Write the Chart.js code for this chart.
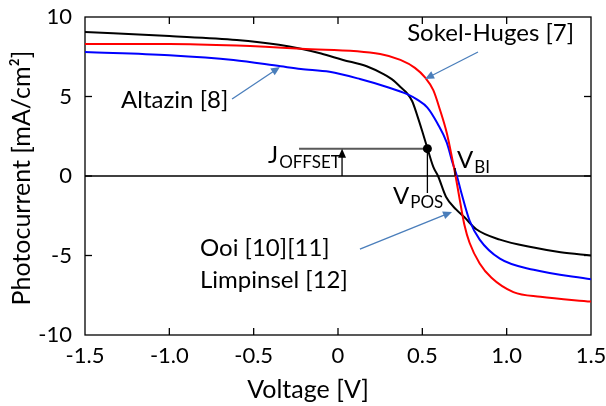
<!DOCTYPE html>
<html>
<head>
<meta charset="utf-8">
<script src="https://cdn.jsdelivr.net/npm/chart.js@4.4.0/dist/chart.umd.min.js"></script>
<style>
  html, body { margin: 0; padding: 0; background: #fff; }
  #wrap { width: 606px; height: 406px; }
</style>
</head>
<body>
<div id="wrap"><canvas id="jv" width="606" height="406"></canvas></div>
<script>
// Ooi [10][11] / Limpinsel [12] (black)
const ooiV = [-1.5, -1.0, -0.6, -0.35, -0.22, -0.1, 0.03, 0.17, 0.27, 0.33, 0.37, 0.41, 0.44, 0.47, 0.5, 0.53, 0.565, 0.593, 0.64, 0.7, 0.75, 0.82, 0.96, 1.16, 1.32, 1.5]
const ooiJ = [9.06, 8.8, 8.55, 8.25, 8.0, 7.7, 7.3, 6.9, 6.4, 6.0, 5.6, 5.2, 4.7, 3.8, 2.8, 1.75, 0.57, 0.0, -1.3, -2.1, -2.6, -3.35, -4.0, -4.5, -4.8, -5.0]
// Sokel-Huges [7] (red)
const sokelV = [-1.5, -1.0, -0.6, -0.22, 0.25, 0.37, 0.456, 0.516, 0.565, 0.605, 0.645, 0.675, 0.697, 0.722, 0.75, 0.78, 0.84, 0.91, 1.04, 1.2, 1.5]
const sokelJ = [8.3, 8.3, 8.2, 8.0, 7.67, 7.3, 6.8, 6.2, 5.4, 4.15, 2.7, 1.2, 0.0, -1.5, -3.1, -4.2, -5.5, -6.4, -7.3, -7.6, -7.9]
// Altazin [8] (blue)
const altazinV = [-1.5, -1.0, -0.62, -0.34, -0.22, -0.05, 0.13, 0.29, 0.41, 0.47, 0.53, 0.59, 0.645, 0.68, 0.705, 0.73, 0.78, 0.84, 0.96, 1.16, 1.5]
const altazinJ = [7.8, 7.6, 7.3, 6.9, 6.73, 6.55, 6.1, 5.6, 5.15, 4.8, 4.3, 3.3, 2.1, 0.8, 0.0, -1.0, -2.8, -4.0, -5.2, -5.9, -6.5]

const xTicks = [-1.5, -1.0, -0.5, 0, 0.5, 1.0, 1.5]
const xTickLabels = [`-1.5`, `-1.0`, `-0.5`, `0`, `0.5`, `1.0`, `1.5`]
const yTicks = [-10, -5, 0, 5, 10]

// operating point marked on the black curve
const posV = 0.53
const posJ = 1.72
const biV = 0.694

const FONT = `Lato`
Chart.defaults.font.family = FONT
Chart.defaults.color = `#000`

const pts = (vs, js) => vs.map((v, i) => ({ x: v, y: js[i] }))

function arrow(ctx, x1, y1, x2, y2, color, head = 9, half = 4) {
  const a = Math.atan2(y2 - y1, x2 - x1)
  ctx.strokeStyle = color
  ctx.fillStyle = color
  ctx.beginPath()
  ctx.moveTo(x1, y1)
  ctx.lineTo(x2 - Math.cos(a) * head * 0.8, y2 - Math.sin(a) * head * 0.8)
  ctx.stroke()
  ctx.beginPath()
  ctx.moveTo(x2, y2)
  ctx.lineTo(x2 - Math.cos(a) * head - Math.sin(a) * half, y2 - Math.sin(a) * head + Math.cos(a) * half)
  ctx.lineTo(x2 - Math.cos(a) * head + Math.sin(a) * half, y2 - Math.sin(a) * head - Math.cos(a) * half)
  ctx.closePath()
  ctx.fill()
}

function subText(ctx, main, sub, x, y, size, subSize, drop) {
  ctx.font = `${size}px ${FONT}`
  ctx.fillText(main, x, y)
  const w = ctx.measureText(main).width
  ctx.font = `${subSize}px ${FONT}`
  ctx.fillText(sub, x + w + 1, y + drop)
}

const sketch = {
  id: `sketch`,
  beforeDatasetsDraw(chart) {
    const { ctx, chartArea: a, scales: { x, y } } = chart
    const line = (x1, y1, x2, y2) => {
      ctx.beginPath(); ctx.moveTo(x1, y1); ctx.lineTo(x2, y2); ctx.stroke()
    }
    ctx.save()
    ctx.strokeStyle = `#000`
    ctx.lineWidth = 1.3
    ctx.strokeRect(a.left, a.top, a.right - a.left, a.bottom - a.top)
    const y0 = y.getPixelForValue(0)
    line(a.left, y0, a.right, y0)
    // tick marks point inwards on all four sides
    const tl = 7
    x.ticks.forEach((t) => {
      const p = x.getPixelForValue(t.value)
      if (p < a.left + 2 || p > a.right - 2) return
      line(p, a.bottom, p, a.bottom - tl)
      line(p, a.top, p, a.top + tl)
    })
    y.ticks.forEach((t) => {
      const p = y.getPixelForValue(t.value)
      if (p < a.top + 2 || p > a.bottom - 2) return
      line(a.left, p, a.left + tl, p)
      line(a.right, p, a.right - tl, p)
    })
    ctx.restore()
  },
  afterDatasetsDraw(chart) {
    const { ctx, scales: { x, y } } = chart
    const X = (v) => x.getPixelForValue(v)
    const Y = (v) => y.getPixelForValue(v)
    ctx.save()
    ctx.fillStyle = `#000`
    ctx.textBaseline = `middle`
    ctx.textAlign = `left`

    // curve labels with blue pointer arrows
    const blue = `#4a7ebb`
    ctx.lineWidth = 1.3
    ctx.font = `24px ${FONT}`
    ctx.fillStyle = `#000`
    ctx.fillText(`Sokel-Huges [7]`, X(0.41), Y(8.98))
    ctx.fillText(`Altazin [8]`, X(-1.286), Y(4.78))
    ctx.fillText(`Ooi [10][11]`, X(-0.818), Y(-4.53))
    ctx.fillText(`Limpinsel [12]`, X(-0.818), Y(-6.54))
    arrow(ctx, X(0.83), Y(7.8), X(0.516), Y(6.1), blue)
    arrow(ctx, X(-0.628), Y(4.84), X(-0.344), Y(6.86), blue)
    arrow(ctx, X(0.13), Y(-4.6), X(0.676), Y(-2.26), blue)

    // J offset construction
    ctx.strokeStyle = `#595959`
    ctx.lineWidth = 2
    ctx.beginPath()
    ctx.moveTo(X(-0.231), Y(posJ))
    ctx.lineTo(X(posV), Y(posJ))
    ctx.stroke()
    ctx.lineWidth = 1.3
    arrow(ctx, X(0.024), Y(0), X(0.024), Y(posJ), `#000`, 9, 4)
    ctx.strokeStyle = `#000`
    ctx.beginPath()
    ctx.moveTo(X(posV), Y(posJ))
    ctx.lineTo(X(posV), Y(-1.07))
    ctx.stroke()
    ctx.beginPath()
    ctx.moveTo(X(biV), Y(0))
    ctx.lineTo(X(biV), Y(0.5))
    ctx.stroke()
    ctx.fillStyle = `#000`
    ctx.beginPath()
    ctx.arc(X(posV), Y(posJ), 4.5, 0, Math.PI * 2)
    ctx.fill()

    ctx.textBaseline = `alphabetic`
    subText(ctx, `J`, `OFFSET`, X(-0.415), Y(0.82), 24, 17, 5)
    subText(ctx, `V`, `POS`, X(0.326), Y(-1.75), 24, 17, 4)
    subText(ctx, `V`, `BI`, X(0.706), Y(0.5), 24, 17, 5)

    // axis titles
    ctx.textAlign = `center`
    ctx.textBaseline = `middle`
    ctx.font = `25px ${FONT}`
    ctx.fillText(`Voltage [V]`, 308, 390)
    ctx.translate(22, 178)
    ctx.rotate(-Math.PI / 2)
    ctx.fillText(`Photocurrent [mA/cm²]`, 0, 0)
    ctx.restore()
  },
}

const curve = (label, vs, js, color) => ({
  label,
  data: pts(vs, js),
  borderColor: color,
  backgroundColor: color,
  borderWidth: 2,
  pointRadius: 0,
  cubicInterpolationMode: `monotone`,
  fill: false,
})

new Chart(document.querySelector(`#jv`), {
  type: `line`,
  data: {
    datasets: [
      curve(`Sokel-Huges [7]`, sokelV, sokelJ, `#ff0000`),
      curve(`Altazin [8]`, altazinV, altazinJ, `#0000ff`),
      curve(`Ooi [10][11] / Limpinsel [12]`, ooiV, ooiJ, `#000000`),
    ],
  },
  options: {
    responsive: false,
    animation: false,
    layout: { padding: { top: 17, right: 15, left: 0, bottom: 0 } },
    scales: {
      x: {
        type: `linear`,
        min: -1.5,
        max: 1.5,
        afterBuildTicks: (s) => { s.ticks = xTicks.map((value) => ({ value })) },
        afterFit: (s) => { s.height = 71; s.paddingLeft = 0; s.paddingRight = 0 },
        grid: { display: false, drawTicks: false },
        border: { display: false },
        ticks: {
          padding: 8,
          maxRotation: 0,
          font: { size: 22 },
          callback: (v, i) => xTickLabels[i],
        },
      },
      y: {
        min: -10,
        max: 10,
        afterBuildTicks: (s) => { s.ticks = yTicks.map((value) => ({ value })) },
        afterFit: (s) => { s.width = 85; s.paddingTop = 0; s.paddingBottom = 0 },
        grid: { display: false, drawTicks: false },
        border: { display: false },
        ticks: { padding: 13, font: { size: 22 } },
      },
    },
    plugins: {
      legend: { display: false },
      tooltip: { enabled: false },
    },
  },
  plugins: [sketch],
})
</script>
</body>
</html>
